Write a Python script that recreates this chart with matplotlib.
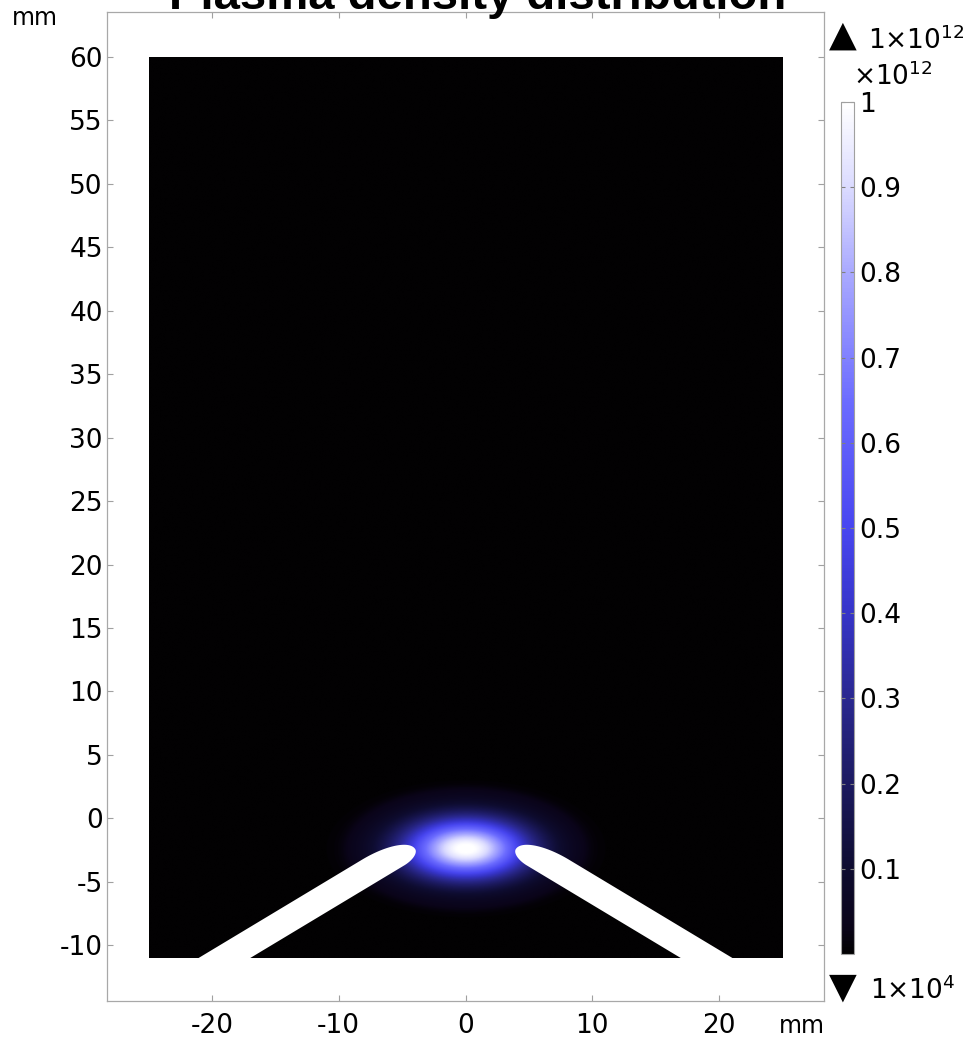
import numpy as np
import matplotlib
matplotlib.use('Agg')
import matplotlib.pyplot as plt
from matplotlib.colors import LinearSegmentedColormap
from matplotlib.patches import Polygon

plt.rcParams['font.family'] = 'DejaVu Sans'
plt.rcParams['axes.unicode_minus'] = False

# simulation domain and view window, all in mm
domain_x = [-25.0, 25.0]
domain_y = [-11.0, 60.0]
view_x = [-28.28, 28.28]
view_y = [-14.4, 63.55]
x_ticks = [-20, -10, 0, 10, 20]
y_ticks = [-10, -5, 0, 5, 10, 15, 20, 25, 30, 35, 40, 45, 50, 55, 60]

# plasma blob (density in units of 1e12 m^-3)
blob_center = [0.0, -2.4]
blob_sigma = [3.3, 1.6]
blob_peak = 1.0
halo_radius = [9.6, 4.9]
halo_level = 0.02

# left electrode, right one is its mirror image
electrode_base = [-19.0, -11.0]   # centreline where it leaves the bottom edge
electrode_angle = 31.0            # degrees above horizontal
electrode_length = 17.3
electrode_half_width = 1.05
tip_offset = -0.4
tip_upper_len = 4.0
tip_lower_len = 1.4

# colour scale
cmap_pos = [0.0, 0.03, 0.1, 0.2, 0.3, 0.4, 0.5, 0.65, 0.8, 0.9, 1.0]
cmap_col = ['#020102', '#0a0419', '#0e0c30', '#1c1a60', '#2a2890', '#3634c8',
            '#4846f0', '#6c6cff', '#a9a9ff', '#dadaff', '#ffffff']
cbar_ticks = [0.1, 0.2, 0.3, 0.4, 0.5, 0.6, 0.7, 0.8, 0.9, 1.0]
cbar_ticklabels = ['0.1', '0.2', '0.3', '0.4', '0.5', '0.6', '0.7', '0.8', '0.9', '1']
cbar_max_label = '1×10$^{12}$'
cbar_min_label = '1×10$^{4}$'
cbar_scale_label = '×10$^{12}$'

title = 'Plasma density distribution'
unit = 'mm'


def electrode_outline(mirror=False):
    L = electrode_length
    b = electrode_half_width
    vt = tip_offset
    s = np.linspace(0, np.pi / 2, 50)
    # local frame: u along the rod, v across it (v > 0 is the upper side)
    u_up = (L - tip_upper_len) + tip_upper_len * np.sin(s)
    v_up = vt + (b - vt) * np.cos(s)
    u_lo = (L - tip_lower_len) + tip_lower_len * np.sin(s[::-1])
    v_lo = vt - (b + vt) * np.cos(s[::-1])
    u = np.concatenate([[-2.0], u_up, u_lo, [-2.0]])
    v = np.concatenate([[b], v_up, v_lo, [-b]])
    th = np.radians(electrode_angle)
    x = electrode_base[0] + u * np.cos(th) - v * np.sin(th)
    y = electrode_base[1] + u * np.sin(th) + v * np.cos(th)
    if mirror:
        x = -x
    return np.column_stack([x, y])


# density field on the domain
gx = np.linspace(domain_x[0], domain_x[1], 1000)
gy = np.linspace(domain_y[0], domain_y[1], 1420)
X, Y = np.meshgrid(gx, gy)
dx = X - blob_center[0]
dy = Y - blob_center[1]
density = blob_peak * np.exp(-0.5 * ((dx / blob_sigma[0]) ** 2 + (dy / blob_sigma[1]) ** 2))
q = np.sqrt((dx / halo_radius[0]) ** 2 + (dy / halo_radius[1]) ** 2)
density = density + halo_level / (1 + np.exp((q - 1) / 0.03))
density = np.clip(density, 0, 1)

cmap = LinearSegmentedColormap.from_list('plasma_blue', list(zip(cmap_pos, cmap_col)))

fig = plt.figure(figsize=(9.71, 10.38), dpi=100)
ax = fig.add_axes([107 / 971, 37 / 1038, 717 / 971, 989 / 1038])
im = ax.imshow(density, extent=[domain_x[0], domain_x[1], domain_y[0], domain_y[1]],
               origin='lower', cmap=cmap, vmin=0, vmax=1, interpolation='bilinear',
               aspect='auto', zorder=1)
for mirror in (False, True):
    ax.add_patch(Polygon(electrode_outline(mirror), closed=True, facecolor='white',
                         edgecolor='none', zorder=2))

ax.set_xlim(view_x)
ax.set_ylim(view_y)
ax.set_xticks(x_ticks)
ax.set_yticks(y_ticks)
ax.tick_params(direction='in', length=4, width=0.8, color='#a0a0a0', labelsize=19,
               top=True, right=True)
ax.tick_params(axis='x', pad=8.5)
ax.tick_params(axis='y', pad=3)
for sp in ax.spines.values():
    sp.set_color('#a8a8a8')
    sp.set_linewidth(0.9)

# unit labels in the corners, like the original export
fig.text(35 / 971, 1 - 25 / 1038, unit, ha='center', va='baseline', fontsize=17)
fig.text(802 / 971, 1 - 1033 / 1038, unit, ha='center', va='baseline', fontsize=17)

# colour bar
cax = fig.add_axes([841 / 971, 84 / 1038, 13 / 971, 852 / 1038])
cbar = fig.colorbar(im, cax=cax, ticks=cbar_ticks)
cbar.set_ticklabels(cbar_ticklabels)
cax.tick_params(direction='in', length=3, width=0.8, color='#808080', labelsize=19,
                left=True, right=True, pad=3.5)
cbar.outline.set_edgecolor('#a0a0a0')
cbar.outline.set_linewidth(0.8)

fig.text(843 / 971, 1 - 36 / 1038, '▲', ha='center', va='center', fontsize=26)
fig.text(868 / 971, 1 - 49 / 1038, cbar_max_label, ha='left', va='baseline', fontsize=19)
fig.text(853 / 971, 1 - 85 / 1038, cbar_scale_label, ha='left', va='baseline', fontsize=19)
fig.text(843 / 971, 1 - 988 / 1038, '▼', ha='center', va='center', fontsize=26)
fig.text(870 / 971, 1 - 999 / 1038, cbar_min_label, ha='left', va='baseline', fontsize=19)

fig.text(478 / 971, 1 - 9 / 1038, title, ha='center', va='baseline', fontsize=34,
         fontweight='bold', family='Liberation Sans')

fig.savefig('out.png', dpi=100)
